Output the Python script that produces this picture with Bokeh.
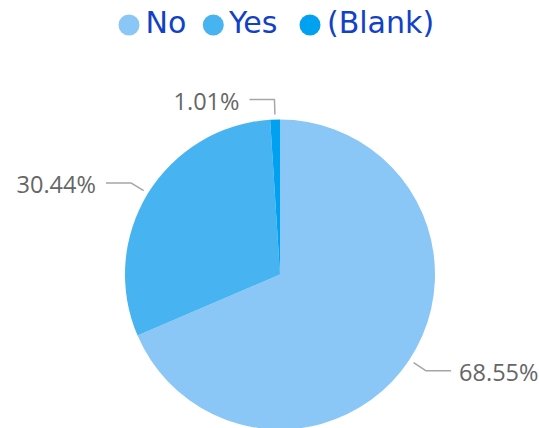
import math
from bokeh.plotting import figure
from bokeh.models import Range1d, ColumnDataSource
from bokeh.core.properties import value
from bokeh.embed import file_html
from bokeh.resources import INLINE

# ---- data ----
categories = ["No", "Yes", "(Blank)"]
percents = [68.55, 30.44, 1.01]
colors = ["#8AC6F6", "#48B3F1", "#00A1F0"]
label_texts = ["68.55%", "30.44%", "1.01%"]

# ---- layout constants ----
W, H = 539, 428
CX, CY, R = 279.5, 154.0, 155.0
LABEL_COLOR = "#666666"
LEADER_COLOR = "#A6A6A6"
LEGEND_TEXT_COLOR = "#1141C8"

p = figure(width=W, height=H, output_backend="svg", toolbar_location=None,
           x_range=Range1d(0, W), y_range=Range1d(0, H),
           x_axis_type=None, y_axis_type=None, min_border=0)
p.outline_line_color = None
p.grid.visible = False
p.background_fill_color = "white"
p.border_fill_color = "white"

total = sum(percents)
starts, ends, mids = [], [], []
cum = 0.0
for v in percents:
    c0 = cum / total
    cum += v
    c1 = cum / total
    starts.append(math.pi / 2 - 2 * math.pi * c1)
    ends.append(math.pi / 2 - 2 * math.pi * c0)
    mids.append(2 * math.pi * (c0 + c1) / 2)

src = ColumnDataSource(dict(start=starts, end=ends, color=colors, cat=categories))
p.wedge(x=CX, y=CY, radius=R, start_angle="start", end_angle="end",
        fill_color="color", line_color=None, source=src)

# ---- leader lines and labels ----
lx, ly, tx, ty, tal = [], [], [], [], []
for th, txt in zip(mids, label_texts):
    dx, dy = math.sin(th), math.cos(th)
    sx, sy = CX + (R + 5) * dx, CY + (R + 5) * dy
    ex, ey = CX + (R + 20) * dx, CY + (R + 20) * dy
    sgn = 1 if dx >= 0 else -1
    hx = ex + 25 * sgn
    lx.append([sx, ex, hx])
    ly.append([sy, ey, ey])
    if sgn > 0:
        tx.append(hx + 8)
        tal.append("left")
    else:
        tx.append(hx - 10)
        tal.append("right")
    ty.append(ey - 1.5)

p.multi_line(xs=lx, ys=ly, line_color=LEADER_COLOR, line_width=1.5)
p.text(x=tx, y=ty, text=label_texts, text_align=tal, text_baseline="middle",
       text_font=value("Open Sans"), text_font_size="23.5px", text_color=LABEL_COLOR)

# ---- legend ----
leg_circle_x = [128.5, 212.8, 309.5]
leg_text_x = [145.0, 228.5, 326.5]
leg_y = 403.5
p.scatter(x=leg_circle_x, y=[leg_y] * 3, size=21, marker="circle",
          fill_color=colors, line_color=None)
p.text(x=leg_text_x, y=[405.8] * 3, text=categories, text_align="left",
       text_baseline="middle", text_font=value("DejaVu Sans"), text_font_size="30px",
       text_color=LEGEND_TEXT_COLOR)

open("out.html", "w").write(file_html(p, INLINE))
